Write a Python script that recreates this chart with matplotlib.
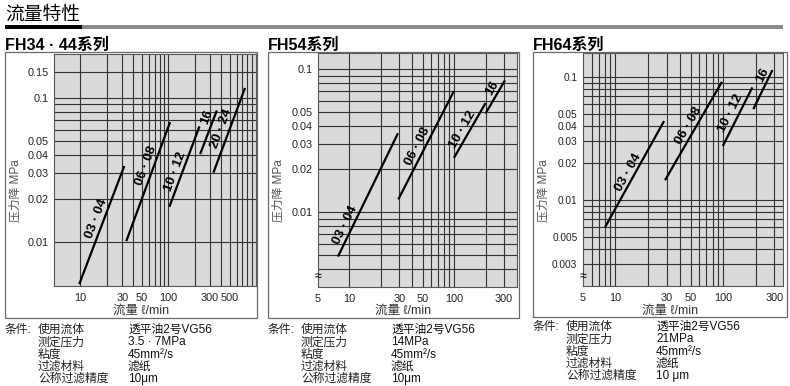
import numpy as np
import matplotlib
matplotlib.use("Agg")
import matplotlib.pyplot as plt
from matplotlib.patches import Rectangle

plt.rcParams['font.family'] = ['Liberation Sans', 'Noto Sans CJK SC', 'DejaVu Sans']

# ---- data (flow l/min vs pressure drop MPa) ----
fh34_labels = ["03 · 04", "06 · 08", "10 · 12", "16", "20 · 24"]
fh34_q0 = [9.7, 33.3, 103, 231, 327]
fh34_q1 = [31.6, 105, 227, 358, 750]
fh34_dp0 = [0.00515, 0.0102, 0.0176, 0.0407, 0.0303]
fh34_dp1 = [0.0337, 0.0677, 0.0633, 0.0815, 0.1165]

fh54_labels = ["03 · 04", "06 · 08", "10 · 12", "16"]
fh54_q0 = [7.76, 29.3, 99.8, 200]
fh54_q1 = [29.1, 99.8, 200, 307]
fh54_dp0 = [0.0049, 0.0123, 0.024, 0.049]
fh54_dp1 = [0.0357, 0.0705, 0.058, 0.0838]

fh64_labels = ["03 · 04", "06 · 08", "10 · 12", "16"]
fh64_q0 = [8.0, 28.9, 99.4, 191]
fh64_q1 = [28.3, 97.6, 187, 287]
fh64_dp0 = [0.006, 0.0145, 0.0275, 0.0549]
fh64_dp1 = [0.0439, 0.0916, 0.0825, 0.114]

# tick labels
fh34_xticks = [10, 30, 50, 100, 300, 500]
fh34_yticks = [0.01, 0.02, 0.03, 0.04, 0.05, 0.1, 0.15]
fh34_ytick_labels = ["0.01", "0.02", "0.03", "0.04", "0.05", "0.1", "0.15"]
fh54_xticks = [5, 10, 30, 50, 100, 300]
fh54_yticks = [0.01, 0.02, 0.03, 0.04, 0.05, 0.1]
fh54_ytick_labels = ["0.01", "0.02", "0.03", "0.04", "0.05", "0.1"]
fh64_xticks = [5, 10, 30, 50, 100, 300]
fh64_yticks = [0.003, 0.005, 0.01, 0.02, 0.03, 0.04, 0.05, 0.1]
fh64_ytick_labels = ["0.003", "0.005", "0.01", "0.02", "0.03", "0.04", "0.05", "0.1"]

cond_items = ["使用流体", "测定压力", "粘度", "过滤材料", "公称过滤精度"]
fh34_cond = ["透平油2号VG56", "3.5 · 7MPa", "45mm²/s", "滤纸", "10μm"]
fh54_cond = ["透平油2号VG56", "14MPa", "45mm²/s", "滤纸", "10μm"]
fh64_cond = ["透平油2号VG56", "21MPa", "45mm²/s", "滤纸", "10 μm"]

# ---- layout ----
W, H = 790, 386
fig = plt.figure(figsize=(W / 100, H / 100), dpi=100)


def fx(px):
    return px / W


def fy(py):
    return 1 - py / H


def fig_rect(x0, y0, x1, y1, **kw):
    fig.add_artist(Rectangle((fx(x0), fy(y1)), (x1 - x0) / W, (y1 - y0) / H,
                             transform=fig.transFigure, **kw))


def decade_grid(lo, hi):
    vals = []
    for d in [0.001, 0.01, 0.1, 1, 10, 100]:
        for k in range(1, 10):
            v = round(k * d, 6)
            if lo <= v <= hi:
                vals.append(v)
    return vals


def panel(plot_px, frame_px, title, xlim, ylim, xgrid, ygrid,
          xticks, yticks, ytick_labels, labels, q0, q1, dp0, dp1,
          lab_t, lab_off, cond, cond_y0, brk=False, ytick_fs=7.8):
    x0, y0, x1, y1 = plot_px
    fig_rect(*frame_px, fill=False, ec='#6a6a6a', lw=0.9)
    ax = fig.add_axes([fx(x0), fy(y1), (x1 - x0) / W, (y1 - y0) / H])
    ax.set_facecolor('#dadada')
    ax.set_xscale('log')
    ax.set_yscale('log')
    ax.set_xlim(*xlim)
    ax.set_ylim(*ylim)
    for v in xgrid:
        ax.axvline(v, color='#333333', lw=0.8, zorder=1)
    for v in ygrid:
        ax.axhline(v, color='#333333', lw=0.8, zorder=1)
    ax.xaxis.set_minor_locator(matplotlib.ticker.NullLocator())
    ax.yaxis.set_minor_locator(matplotlib.ticker.NullLocator())
    ax.set_xticks(xticks, [str(v) for v in xticks])
    ax.set_yticks(yticks, ytick_labels)
    ax.tick_params(axis='x', length=0, pad=5, labelsize=7.8, labelcolor='#222')
    ax.tick_params(axis='y', length=0, pad=4, labelsize=ytick_fs, labelcolor='#222')
    for s in ax.spines.values():
        s.set_color('#555')
        s.set_linewidth(0.8)

    for lab, a, b, c, d, t, off in zip(labels, q0, q1, dp0, dp1, lab_t, lab_off):
        ax.plot([a, b], [c, d], color='black', lw=1.6, solid_capstyle='butt', zorder=3)
        p0 = ax.transData.transform((a, c))
        p1 = ax.transData.transform((b, d))
        dx, dy = p1 - p0
        ang = np.degrees(np.arctan2(dy, dx))
        pm = p0 + t * (p1 - p0)
        n = np.array([-dy, dx]) / np.hypot(dx, dy)
        xm, ym = ax.transData.inverted().transform(pm)
        ox, oy = n * off * 72 / fig.dpi
        ax.annotate(lab, (xm, ym), xytext=(ox, oy), textcoords='offset points',
                    rotation=ang, rotation_mode='anchor', ha='center', va='center',
                    fontsize=9.5, fontweight='bold', zorder=4)

    if brk:
        ax.text(0, 0.04, "≈", transform=ax.transAxes, ha='center', va='center',
                fontsize=9, clip_on=False, zorder=5)

    fl, ft, fr, fb = frame_px
    fig.text(fx(fl), fy(45), title, ha='left', va='center', fontsize=11.5, fontweight='bold')
    fig.text(fx(fl + 11), fy(191), "压力降 MPa", rotation=90, ha='center', va='center',
             fontsize=8.5, color='#555')
    fig.text(fx((fl + fr) / 2 + 10), fy(311), "流量 ℓ/min", ha='center', va='center',
             fontsize=9, color='#333')

    fig.text(fx(fl), fy(cond_y0), "条件:", ha='left', va='center', fontsize=8.5, color='#222')
    for i, (item, val) in enumerate(zip(cond_items, cond)):
        yy = cond_y0 + i * 12.3
        fig.text(fx(fl + 33), fy(yy), item, ha='left', va='center', fontsize=8.5, color='#222')
        fig.text(fx(fl + 123), fy(yy), val, ha='left', va='center', fontsize=8.5, color='#111')
    return ax


# header
fig.text(fx(5), fy(15), "流量特性", ha='left', va='center', fontsize=13.5, fontweight='medium')
fig_rect(5, 25, 82, 29, color='black', lw=0)
fig_rect(82, 25.5, 783, 28.5, color='#8c8c8c', lw=0)

panel((54, 54, 256, 286), (5, 52, 257, 318), "FH34 · 44系列",
      (5, 1000), (0.005, 0.2),
      decade_grid(10, 900), decade_grid(0.01, 0.1) + [0.15],
      fh34_xticks, fh34_yticks, fh34_ytick_labels,
      fh34_labels, fh34_q0, fh34_q1, fh34_dp0, fh34_dp1,
      [0.53, 0.61, 0.41, 0.8, 0.49], [7, 7, 6.5, 6.5, 7.5],
      fh34_cond, 330)

panel((318, 53, 517, 287), (268, 52, 519, 318), "FH54系列",
      (5, 400), (0.003, 0.13),
      decade_grid(10, 300), decade_grid(0.004, 0.1),
      fh54_xticks, fh54_yticks, fh54_ytick_labels,
      fh54_labels, fh54_q0, fh54_q1, fh54_dp0, fh54_dp1,
      [0.23, 0.46, 0.45, 0.65], [7, 6.5, 6.5, 7],
      fh54_cond, 330, brk=True)

panel((583, 53, 783, 286), (533, 52, 787, 317), "FH64系列",
      (5, 360), (0.002, 0.157),
      decade_grid(6, 300), decade_grid(0.003, 0.1),
      fh64_xticks, fh64_yticks, fh64_ytick_labels,
      fh64_labels, fh64_q0, fh64_q1, fh64_dp0, fh64_dp1,
      [0.49, 0.52, 0.5, 0.8], [6.5, 6.5, 7.5, 6.5],
      fh64_cond, 327, brk=True, ytick_fs=7.3)

fig.savefig("out.png", dpi=100)
